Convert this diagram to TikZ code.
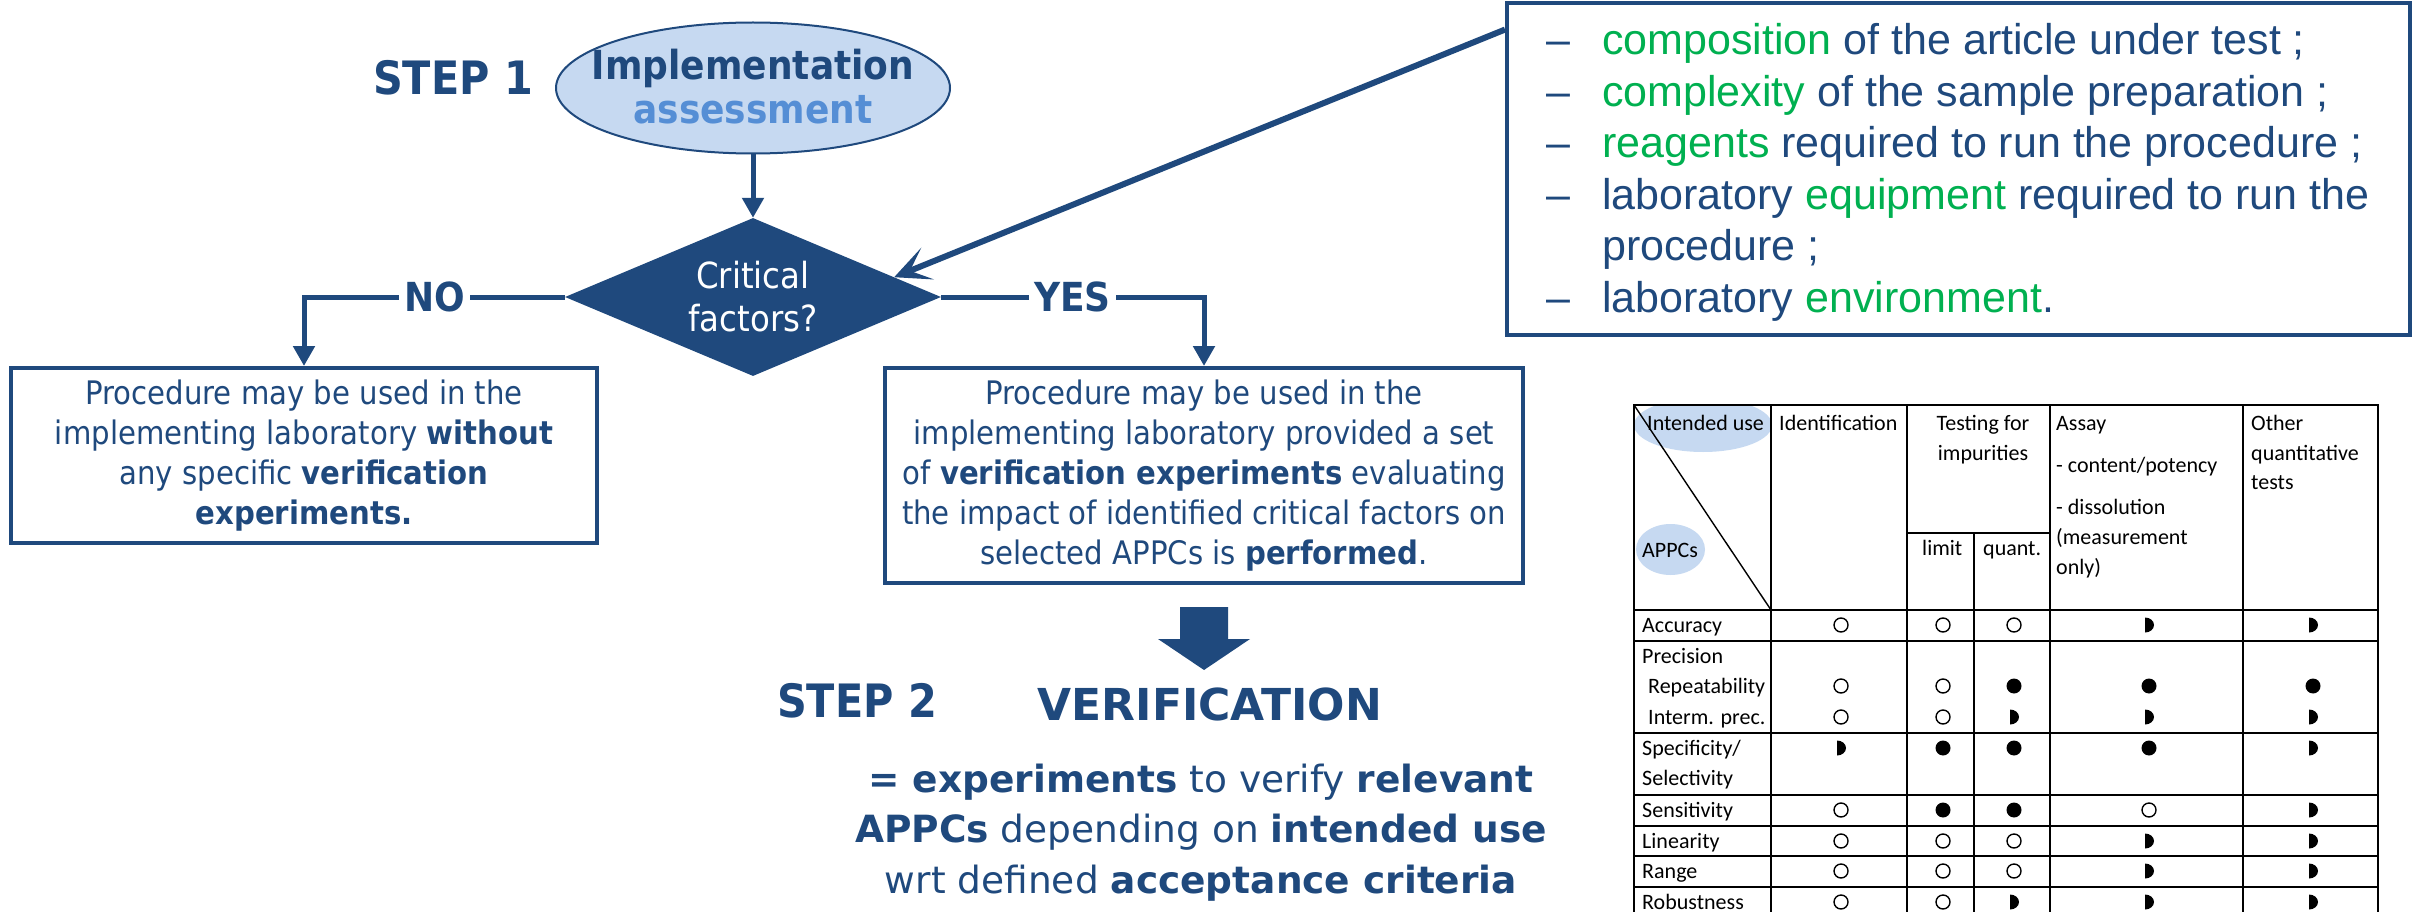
\documentclass[tikz,border=0pt]{standalone}
\usepackage{fontspec}
\setmainfont{DejaVu Sans}
\newfontfamily\condfont[FakeStretch=0.9]{DejaVu Sans}
\newfontfamily\listfont{Liberation Sans}
\newfontfamily\tablefont{Carlito}
\usetikzlibrary{shapes.geometric,arrows.meta,calc}
\definecolor{navy}{HTML}{1F497D}
\definecolor{skyfill}{HTML}{C6D9F1}
\definecolor{midblue}{HTML}{558ED5}
\definecolor{leaf}{HTML}{00B050}

\begin{document}
\begin{tikzpicture}[x=1pt,y=-1pt,
  flow/.style={draw=navy,line width=5pt,-{Triangle[length=20pt,width=21pt]}},
  pointer/.style={draw=navy,line width=6pt,-{Stealth[length=36pt,width=34pt,inset=19pt]}},
  choice/.style={fill=white,inner xsep=5pt,inner ysep=2pt,text=navy,
    font=\condfont\bfseries\fontsize{40}{44}\selectfont},
  outcome/.style={draw=navy,line width=4pt,align=center,text=navy,inner sep=0pt,
    font=\condfont\fontsize{32.4}{40}\selectfont},
  steplabel/.style={text=navy,inner sep=0pt,anchor=base,
    font=\condfont\bfseries\fontsize{46}{50}\selectfont},
  cell/.style={inner sep=0pt,anchor=base west},
  cellc/.style={inner sep=0pt,anchor=base},
  grid/.style={draw=black,line width=1.8pt},
  appcnone/.pic={\draw[line width=1.4pt] (0,0) circle (7);},
  appcfull/.pic={\fill (0,0) circle (7.5);},
  appchalf/.pic={\fill (-4,7.5) arc[start angle=90,end angle=-90,x radius=9,y radius=7.5] -- cycle;},
]
\useasboundingbox (0,0) rectangle (2412,912);
\fill[white] (0,0) rectangle (2412,912);

% ---------- step 1 : flow chart ----------
\node[steplabel] (step1) at (453,95) {STEP 1};

\node[ellipse,draw=navy,line width=2pt,fill=skyfill,minimum width=394pt,minimum height=131pt,
      inner xsep=-22pt,inner ysep=0pt,align=center,font=\condfont\bfseries\fontsize{40}{44}\selectfont]
  (impl) at (753,88) {\raisebox{3pt}{\textcolor{navy}{Implementation}}\\\raisebox{3pt}{\textcolor{midblue}{assessment}}};

\node[diamond,fill=navy,minimum width=376pt,minimum height=158pt,inner sep=0pt,shape aspect=2.4,
      align=center,text=white,font=\condfont\fontsize{36}{43}\selectfont]
  (crit) at (753,297) {Critical\\factors?};

\node[outcome,minimum width=586pt,minimum height=175pt] (nobox) at (304,455.5)
  {Procedure may be used in the\\implementing laboratory \textbf{without}\\any specific \textbf{verification}\\\textbf{experiments.}};

\node[outcome,minimum width=638pt,minimum height=215pt] (yesbox) at (1204,475.5)
  {Procedure may be used in the\\implementing laboratory provided a set\\of \textbf{verification experiments} evaluating\\the impact of identified critical factors on\\selected APPCs is \textbf{performed}.};

\draw[flow] (impl.south) -- (crit.north);
\draw[flow] (crit.west) -- node[choice] (nolabel) {NO} (crit.west -| nobox.north) -- (nobox.north);
\draw[flow] (crit.east) -- node[choice] (yeslabel) {YES} (crit.east -| yesbox.north) -- (yesbox.north);

% block arrow leading to step 2
\begin{scope}[shift={(yesbox.south)}]
  \fill[navy] (-24,22) -- (24,22) -- (24,54) -- (46,54) -- (0,85) -- (-46,54) -- (-24,54) -- cycle;
\end{scope}

% ---------- step 2 ----------
\node[steplabel] (step2) at (857,717) {STEP 2};
\node[text=navy,inner sep=0pt,anchor=base,font=\bfseries\fontsize{44}{48}\selectfont]
  (verif) at (1210,720) {VERIFICATION};
\node[text=navy,inner sep=0pt,anchor=north,align=center,font=\fontsize{37.5}{50.5}\selectfont]
  (aim) at (1201,763.5)
  {\textbf{= experiments} to verify \textbf{relevant}\\\textbf{APPCs} depending on \textbf{intended use}\\wrt defined \textbf{acceptance criteria}};

% ---------- critical factors list ----------
\node[draw=navy,line width=4pt,minimum width=903pt,minimum height=332pt,inner sep=0pt]
  (factorsbox) at (1958.5,169) {};
\node[anchor=base west,inner sep=0pt,text=navy,font=\listfont\fontsize{43}{51.5}\selectfont]
  (factorslist) at (1546,55) {%
  \begin{tabular}[t]{@{}l@{}l@{}}
  \makebox[56pt][l]{\textendash} & \textcolor{leaf}{composition} of the article under test ;\\
  \makebox[56pt][l]{\textendash} & \textcolor{leaf}{complexity} of the sample preparation ;\\
  \makebox[56pt][l]{\textendash} & \textcolor{leaf}{reagents} required to run the procedure ;\\
  \makebox[56pt][l]{\textendash} & laboratory \textcolor{leaf}{equipment} required to run the\\
                        & procedure ;\\
  \makebox[56pt][l]{\textendash} & laboratory \textcolor{leaf}{environment}.
  \end{tabular}};

\draw[pointer] ($(factorsbox.north west)!0.085!(factorsbox.south west)$) -- ($(crit.north)!0.75!(crit.east)$);

% ---------- APPC table ----------
\begin{scope}[font=\tablefont\fontsize{22}{26}\selectfont]
  \begin{scope}
    \clip (1634,405) rectangle (1771,610);
    \fill[skyfill] (1703,425) ellipse [x radius=69, y radius=27];
  \end{scope}
  \fill[skyfill] (1670.5,549.5) ellipse [x radius=34.5, y radius=25.5];

  \draw[grid] (1634,405) rectangle (2378,930);
  \foreach \gx in {1771,1907,2050,2243} \draw[grid] (\gx,405) -- (\gx,930);
  \draw[grid] (1974,533) -- (1974,930);
  \draw[grid] (1907,533) -- (2050,533);
  \foreach \gy in {610,641,733,795,826,856,887} \draw[grid] (1634,\gy) -- (2378,\gy);
  \draw[line width=1.4pt] (1634,405) -- (1771,610);

  % header
  \node[cell] (hintended) at (1647,430) {Intended use};
  \node[cell] (happcs) at (1642,557) {APPCs};
  \node[cell] (hident) at (1779,430) {Identification};
  \node[cellc] (htest) at (1983,430) {Testing for};
  \node[cellc] (himp) at (1983,460) {impurities};
  \node[cell] (hlimit) at (1922,555) {limit};
  \node[cell] (hquant) at (1983,555) {quant.};
  \node[cell] (hassay) at (2056,430) {Assay};
  \node[cell] (hcontent) at (2056,472) {- content/potency};
  \node[cell] (hdiss) at (2056,514) {- dissolution};
  \node[cell] (hmeas) at (2056,544) {(measurement};
  \node[cell] (honly) at (2056,574) {only)};
  \node[cell] (hother) at (2251,430) {Other};
  \node[cell] (hquanti) at (2251,460) {quantitative};
  \node[cell] (htests) at (2251,489) {tests};

  % row labels
  \node[cell] (raccuracy) at (1642,632) {Accuracy};
  \node[cell] (rprecision) at (1642,663) {Precision};
  \node[cell] (rrepeat) at (1648,693) {Repeatability};
  \node[cell] (rinterm) at (1648,724) {Interm. prec.};
  \node[cell] (rspecific) at (1642,755) {Specificity/};
  \node[cell] (rselect) at (1642,785) {Selectivity};
  \node[cell] (rsensitiv) at (1642,817) {Sensitivity};
  \node[cell] (rlinear) at (1642,848) {Linearity};
  \node[cell] (rrange) at (1642,878) {Range};
  \node[cell] (rrobust) at (1642,909) {Robustness};

  % marks
  \foreach \yy/\ka/\kb/\kc/\kd/\ke in {
      625/none/none/none/half/half,
      686/none/none/full/full/full,
      717/none/none/half/half/half,
      748/half/full/full/full/half,
      810/none/full/full/none/half,
      841/none/none/none/half/half,
      871/none/none/none/half/half,
      902/none/none/half/half/half}
  {
    \pic at (1841,\yy) {appc\ka};
    \pic at (1943,\yy) {appc\kb};
    \pic at (2014,\yy) {appc\kc};
    \pic at (2149,\yy) {appc\kd};
    \pic at (2313,\yy) {appc\ke};
  }
\end{scope}
\end{tikzpicture}
\end{document}
